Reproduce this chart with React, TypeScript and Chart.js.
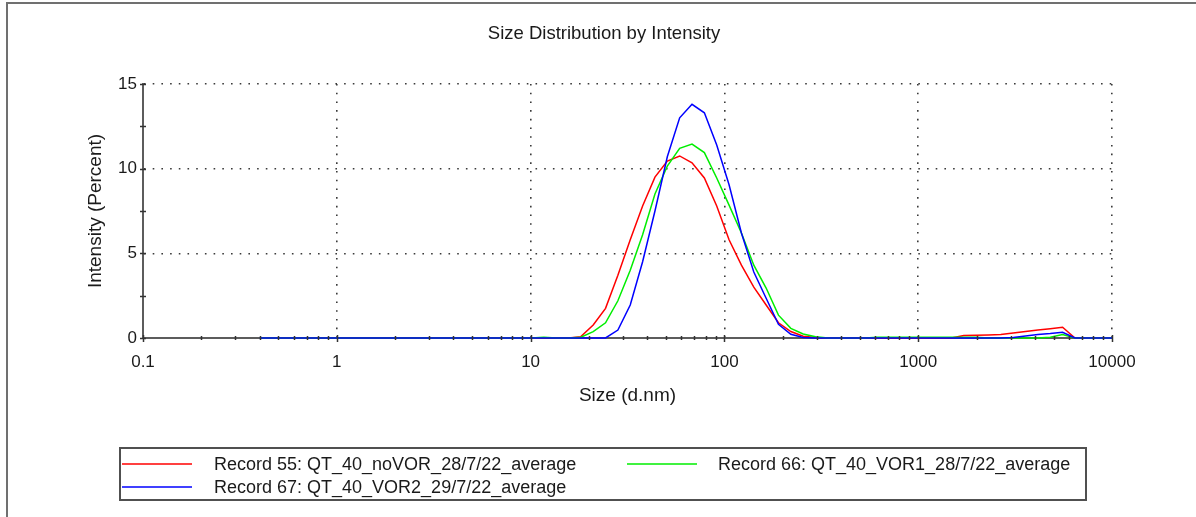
import React, { useEffect, useRef } from "react";
import { Chart, registerables } from "chart.js";

Chart.register(...registerables);

// ---- Data ----
const SIZES = [
  0.4, 0.4632, 0.5365, 0.6213, 0.7195, 0.8332, 0.9649, 1.117, 1.294, 1.499,
  1.736, 2.01, 2.328, 2.696, 3.122, 3.615, 4.187, 4.849, 5.615, 6.503,
  7.531, 8.721, 10.1, 11.7, 13.54, 15.69, 18.17, 21.04, 24.36, 28.21,
  32.67, 37.84, 43.82, 50.75, 58.77, 68.06, 78.82, 91.28, 105.7, 122.4,
  141.8, 164.2, 190.1, 220.2, 255.0, 295.3, 342.0, 396.1, 458.7, 531.2,
  615.1, 712.4, 825.0, 955.4, 1106, 1281, 1484, 1718, 1990, 2305,
  2669, 3091, 3580, 4145, 4801, 5560, 6439, 7456, 8635, 10000,
];

const RECORD_55 = [
  0, 0, 0, 0, 0, 0, 0, 0, 0, 0,
  0, 0, 0, 0, 0, 0, 0, 0, 0, 0,
  0, 0, 0, 0, 0, 0, 0.08, 0.77, 1.75, 3.7,
  5.8, 7.8, 9.5, 10.45, 10.75, 10.35, 9.45, 7.8, 5.8, 4.3,
  3.0, 1.95, 0.9, 0.38, 0.1, 0.03, 0, 0, 0, 0,
  0, 0, 0, 0, 0, 0, 0, 0.15, 0.16, 0.18,
  0.21, 0.3, 0.38, 0.47, 0.55, 0.64, 0, 0, 0, 0,
];

const RECORD_66 = [
  0, 0, 0, 0, 0, 0, 0, 0, 0, 0,
  0, 0, 0, 0, 0, 0, 0, 0, 0, 0,
  0, 0, 0, 0.05, 0, 0, 0.05, 0.38, 0.9, 2.2,
  4.0, 6.1, 8.5, 10.15, 11.2, 11.45, 10.95, 9.45, 7.85, 6.2,
  4.3, 2.95, 1.35, 0.57, 0.24, 0.08, 0, 0, 0, 0,
  0.05, 0.05, 0.05, 0.05, 0.05, 0.05, 0.05, 0.05, 0.05, 0,
  0, 0, 0, 0, 0.05, 0.2, 0, 0, 0, 0,
];

const RECORD_67 = [
  0, 0, 0, 0, 0, 0, 0, 0, 0, 0,
  0, 0, 0, 0, 0, 0, 0, 0, 0, 0,
  0, 0, 0, 0, 0, 0, 0, 0, 0, 0.47,
  1.95, 4.5, 7.5, 10.7, 13.0, 13.8, 13.3, 11.4, 9.05, 6.2,
  3.9, 2.35, 0.81, 0.22, 0.03, 0, 0, 0, 0, 0,
  0, 0, 0, 0, 0, 0, 0, 0, 0, 0,
  0, 0.03, 0.12, 0.2, 0.26, 0.34, 0, 0, 0, 0,
];

const SERIES_LABELS = [
  "Record 55: QT_40_noVOR_28/7/22_average",
  "Record 66: QT_40_VOR1_28/7/22_average",
  "Record 67: QT_40_VOR2_29/7/22_average",
];
const SERIES_COLORS = ["#ff0000", "#00ee00", "#0000ff"];

const X_MAJOR_TICKS = [0.1, 1, 10, 100, 1000, 10000];
const Y_TICKS = [0, 2.5, 5, 7.5, 10, 12.5, 15];
const Y_LABELED = [0, 5, 10, 15];

const TITLE = "Size Distribution by Intensity";
const X_TITLE = "Size (d.nm)";
const Y_TITLE = "Intensity (Percent)";

const FONT = '"Liberation Sans", Arial, sans-serif';
const TEXT_COLOR = "#1a1a1a";
const GRID_COLOR = "#3a3a3a";

function isDecade(v: number) {
  const l = Math.log10(v);
  return Math.abs(l - Math.round(l)) < 1e-9;
}

const framePlugin = {
  id: "frame",
  beforeDraw(chart: any) {
    const ctx = chart.ctx;
    ctx.save();
    ctx.fillStyle = "#ffffff";
    ctx.fillRect(0, 0, chart.width, chart.height);
    ctx.fillStyle = "#707070";
    ctx.fillRect(6, 2, chart.width - 6, 2);
    ctx.fillRect(6, 2, 2, chart.height - 2);
    ctx.restore();
  },
};

const tickMarksPlugin = {
  id: "tickMarks",
  afterDatasetsDraw(chart: any) {
    const ctx = chart.ctx;
    const xs = chart.scales.x;
    const ys = chart.scales.y;
    const area = chart.chartArea;
    ctx.save();
    ctx.strokeStyle = "#333333";
    ctx.lineWidth = 1.5;
    xs.ticks.forEach((t: any) => {
      const px = Math.round(xs.getPixelForValue(t.value)) + 0.5;
      const major = isDecade(t.value);
      ctx.beginPath();
      ctx.moveTo(px, area.bottom - (major ? 3 : 2));
      ctx.lineTo(px, area.bottom + (major ? 4 : 2));
      ctx.stroke();
    });
    ys.ticks.forEach((t: any) => {
      const py = Math.round(ys.getPixelForValue(t.value)) + 0.5;
      ctx.beginPath();
      ctx.moveTo(area.left - 3, py);
      ctx.lineTo(area.left + 3, py);
      ctx.stroke();
    });
    ctx.restore();
  },
};

const titleLegendPlugin = {
  id: "titleLegend",
  afterDraw(chart: any) {
    const ctx = chart.ctx;
    ctx.save();
    ctx.fillStyle = TEXT_COLOR;
    ctx.font = `18.5px ${FONT}`;
    ctx.textAlign = "center";
    ctx.textBaseline = "middle";
    ctx.fillText(TITLE, 604, 34);

    // legend box
    ctx.strokeStyle = "#505050";
    ctx.lineWidth = 2;
    ctx.strokeRect(120, 448, 966, 52);

    const lineX = [122, 627];
    const textX = [214, 718];
    const rowY = [464, 487];
    ctx.font = `18px ${FONT}`;
    ctx.textAlign = "left";
    chart.data.datasets.forEach((ds: any, i: number) => {
      const col = i % 2;
      const row = Math.floor(i / 2);
      const y = rowY[row];
      ctx.strokeStyle = ds.borderColor;
      ctx.lineWidth = 1.5;
      ctx.beginPath();
      ctx.moveTo(lineX[col], y);
      ctx.lineTo(lineX[col] + 70, y);
      ctx.stroke();
      ctx.fillStyle = TEXT_COLOR;
      ctx.fillText(ds.label, textX[col], y + 1);
    });
    ctx.restore();
  },
};

export default function App() {
  const canvasRef = useRef<HTMLCanvasElement | null>(null);

  useEffect(() => {
    document.body.style.margin = "0";
    const canvas = canvasRef.current;
    if (!canvas) return;
    const seriesValues = [RECORD_55, RECORD_66, RECORD_67];
    const chart = new Chart(canvas, {
      type: "line",
      data: {
        datasets: seriesValues.map((vals, i) => ({
          label: SERIES_LABELS[i],
          data: SIZES.map((s, j) => ({ x: s, y: vals[j] })),
          borderColor: SERIES_COLORS[i],
          backgroundColor: SERIES_COLORS[i],
          borderWidth: 1.5,
          pointRadius: 0,
          tension: 0,
          fill: false,
          clip: false,
          order: 3 - i,
        })),
      },
      options: {
        animation: false,
        responsive: false,
        devicePixelRatio: 1,
        events: [],
        layout: { padding: { top: 84, right: 84, bottom: 0, left: 0 } },
        plugins: {
          legend: { display: false },
          title: { display: false },
          tooltip: { enabled: false },
        },
        scales: {
          x: {
            type: "logarithmic",
            min: 0.1,
            max: 10000,
            afterBuildTicks: (axis: any) => {
              const ticks: { value: number }[] = [];
              X_MAJOR_TICKS.forEach((d, k) => {
                ticks.push({ value: d });
                if (k < X_MAJOR_TICKS.length - 1) {
                  for (let m = 2; m <= 9; m++) ticks.push({ value: m * d });
                }
              });
              axis.ticks = ticks;
            },
            afterFit: (axis: any) => {
              axis.height = 179;
            },
            grid: {
              drawTicks: false,
              lineWidth: 1.6,
              color: (c: any) =>
                c.tick && isDecade(c.tick.value) && c.tick.value > 0.1 ? GRID_COLOR : "rgba(0,0,0,0)",
            },
            border: { display: true, color: "#5c5c5c", width: 2, dash: [1.6, 7.1] },
            ticks: {
              autoSkip: false,
              maxRotation: 0,
              minRotation: 0,
              padding: 14,
              color: TEXT_COLOR,
              font: { family: FONT, size: 17 },
              callback: (v: any) => {
                const n = Number(v);
                return isDecade(n) ? String(n) : "";
              },
            },
            title: {
              display: true,
              text: X_TITLE,
              color: TEXT_COLOR,
              font: { family: FONT, size: 19 },
              padding: { top: 0, bottom: 109.6 },
            },
          },
          y: {
            type: "linear",
            min: 0,
            max: 15,
            afterBuildTicks: (axis: any) => {
              axis.ticks = Y_TICKS.map((v) => ({ value: v }));
            },
            afterFit: (axis: any) => {
              axis.width = 143;
            },
            grid: {
              drawTicks: false,
              lineWidth: 1.6,
              color: (c: any) =>
                c.tick && c.tick.value > 0 && Y_LABELED.includes(c.tick.value) ? GRID_COLOR : "rgba(0,0,0,0)",
            },
            border: { display: true, color: "#5c5c5c", width: 2, dash: [1.6, 7.1] },
            ticks: {
              autoSkip: false,
              padding: 6,
              color: TEXT_COLOR,
              font: { family: FONT, size: 17 },
              callback: (v: any) => (Y_LABELED.includes(Number(v)) ? String(v) : ""),
            },
            title: {
              display: true,
              text: Y_TITLE,
              color: TEXT_COLOR,
              font: { family: FONT, size: 19 },
              padding: { top: 84.6, bottom: 0 },
            },
          },
        },
      },
      plugins: [framePlugin, tickMarksPlugin, titleLegendPlugin],
    } as any);
    return () => chart.destroy();
  }, []);

  return (
    <div style={{ width: 1196, height: 517 }}>
      <canvas ref={canvasRef} width={1196} height={517} style={{ display: "block", width: 1196, height: 517 }} />
    </div>
  );
}
